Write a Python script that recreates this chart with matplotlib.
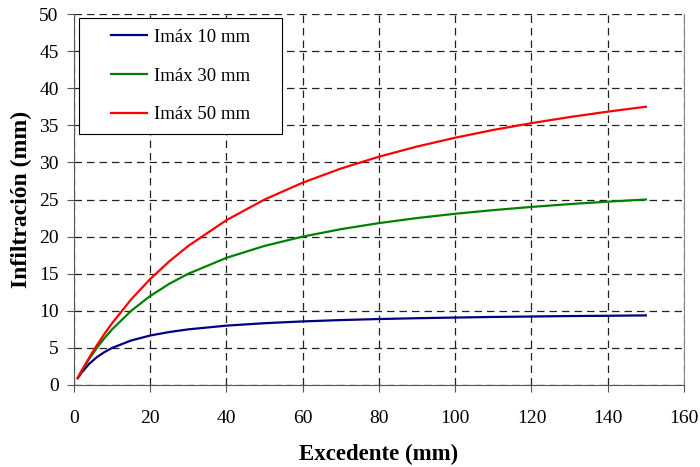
import matplotlib.pyplot as plt
from matplotlib.patches import Rectangle

plt.rcParams['font.family'] = ['Liberation Serif', 'DejaVu Serif']

excedente = [1, 2, 4, 6, 8, 10, 15, 20, 25, 30, 40, 50, 60, 70, 80, 90, 100, 110, 120, 130, 140, 150]
imax_10 = [0.91, 1.67, 2.86, 3.75, 4.44, 5.0, 6.0, 6.67, 7.14, 7.5, 8.0, 8.33, 8.57, 8.75, 8.89, 9.0,
           9.09, 9.17, 9.23, 9.29, 9.33, 9.38]
imax_30 = [0.97, 1.88, 3.53, 5.0, 6.32, 7.5, 10.0, 12.0, 13.64, 15.0, 17.14, 18.75, 20.0, 21.0, 21.82,
           22.5, 23.08, 23.57, 24.0, 24.38, 24.71, 25.0]
imax_50 = [0.98, 1.92, 3.70, 5.36, 6.90, 8.33, 11.54, 14.29, 16.67, 18.75, 22.22, 25.0, 27.27, 29.17,
           30.77, 32.14, 33.33, 34.38, 35.29, 36.11, 36.84, 37.5]

fig = plt.figure(figsize=(7, 4.67), dpi=100)
ax = fig.add_axes([0.1057, 0.1756, 0.8714, 0.7944])

ax.plot(excedente, imax_10, color='#000080', linewidth=1.6, label='Imáx 10 mm')
ax.plot(excedente, imax_30, color='#008000', linewidth=1.6, label='Imáx 30 mm')
ax.plot(excedente, imax_50, color='#ff0000', linewidth=1.6, label='Imáx 50 mm')

ax.set_xlim(0, 160)
ax.set_ylim(0, 50)
ax.set_xticks(range(0, 161, 20))
ax.set_yticks(range(0, 51, 5))
ax.grid(True, color='#222222', linestyle=(0, (6, 4)), linewidth=0.9)
ax.set_axisbelow(True)

ax.spines['top'].set_visible(False)
ax.spines['right'].set_color('#888888')
ax.spines['left'].set_color('#555555')
ax.spines['bottom'].set_color('#555555')
ax.tick_params(direction='out', length=5, labelsize=14, color='#555555')
ax.tick_params(axis='x', pad=13)
ax.tick_params(axis='y', pad=6)

ax.set_xlabel('Excedente (mm)', fontsize=16.5, fontweight='bold', labelpad=12)
ax.set_ylabel('Infiltración (mm)', fontsize=17, fontweight='bold', labelpad=5)

# legend box drawn separately so the entries sit centred in a wide frame
box = Rectangle((0.0082, 0.6765), 0.333, 0.3125, transform=ax.transAxes, facecolor='white',
                edgecolor='black', linewidth=0.8, zorder=4)
ax.add_patch(box)
leg = ax.legend(loc='center', bbox_to_anchor=(0.1746, 0.8328), fontsize=13.5, frameon=False,
                labelspacing=1.15, handlelength=1.9, handletextpad=0.35, borderaxespad=0)
leg.set_zorder(5)

fig.savefig('out.png', dpi=100)
